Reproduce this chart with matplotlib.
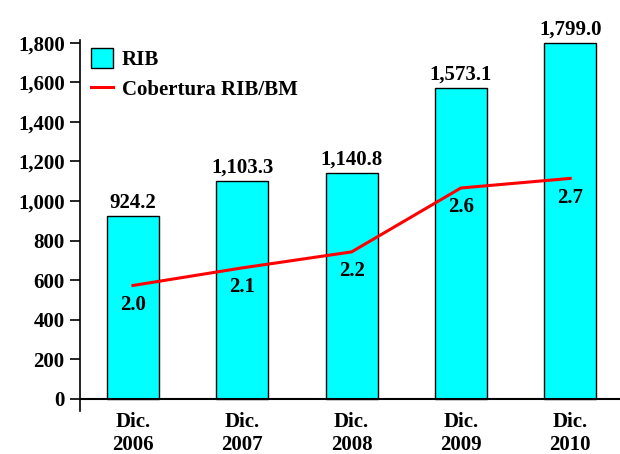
import matplotlib.pyplot as plt

periodos = ['Dic.\n2006', 'Dic.\n2007', 'Dic.\n2008', 'Dic.\n2009', 'Dic.\n2010']
rib = [924.2, 1103.3, 1140.8, 1573.1, 1799.0]
cobertura = [1.99, 2.10, 2.20, 2.60, 2.66]

plt.rcParams['font.family'] = ['Liberation Serif']
plt.rcParams['font.weight'] = 'bold'

fig = plt.figure(figsize=(6.2, 4.54), dpi=100)
ax = fig.add_axes([0.129, 0.0947, 0.871, 0.8172])

x = list(range(len(periodos)))
barras = ax.bar(x, rib, width=0.476, color='#00ffff', edgecolor='black', linewidth=1, label='RIB')
for xi, v in zip(x, rib):
    ax.annotate(f'{v:,.1f}', (xi, v), xytext=(0, 6), textcoords='offset points',
                ha='center', va='baseline', fontsize=15)

ax.set_xlim(-0.485, 4.456)
ax.set_ylim(-61, 1814)
ax.set_yticks(range(0, 1801, 200))
ax.set_yticklabels([f'{t:,}' for t in range(0, 1801, 200)], fontsize=15)
ax.set_xticks(x)
ax.set_xticklabels(periodos, fontsize=15, linespacing=1.2)
ax.tick_params(axis='x', length=0, pad=1)
ax.tick_params(axis='y', direction='out', length=7, width=1.2, pad=4)
ax.axhline(0, color='black', linewidth=1.5)
for s in ['top', 'right', 'bottom']:
    ax.spines[s].set_visible(False)
ax.spines['left'].set_linewidth(1.2)

# eje secundario para la cobertura (oculto)
ax2 = ax.twinx()
ax2.set_ylim(1.2043, 3.5263)
linea, = ax2.plot(x, cobertura, color='red', linewidth=2.2, label='Cobertura RIB/BM')
for xi, v in zip(x, cobertura):
    ax2.annotate(f'{v:.1f}', (xi, v), xytext=(0, -14), textcoords='offset points',
                 ha='center', va='center', fontsize=15)
ax2.axis('off')

ax.legend([barras, linea], ['RIB', 'Cobertura RIB/BM'], loc='upper left',
          bbox_to_anchor=(0.005, 1.0), borderaxespad=0, frameon=False, fontsize=15,
          handlelength=1.05, handleheight=1.05, handletextpad=0.43, labelspacing=0.4)

plt.savefig('out.png', dpi=100)
